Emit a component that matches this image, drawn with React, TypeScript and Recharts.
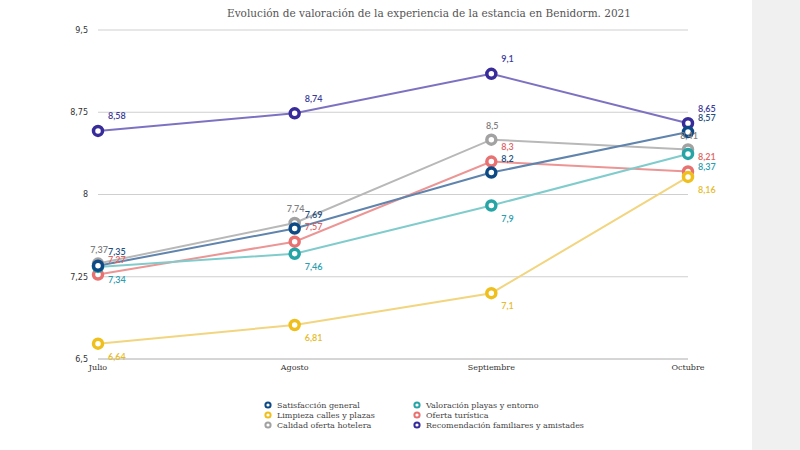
import { LineChart, Line, XAxis, YAxis, CartesianGrid, LabelList } from "recharts";

const MONTHS = ["Julio", "Agosto", "Septiembre", "Octubre"];

const SATISFACCION = [7.35, 7.69, 8.2, 8.57];
const LIMPIEZA = [6.64, 6.81, 7.1, 8.16];
const CALIDAD_HOTELERA = [7.37, 7.74, 8.5, 8.41];
const PLAYAS = [7.34, 7.46, 7.9, 8.37];
const OFERTA = [7.27, 7.57, 8.3, 8.21];
const RECOMENDACION = [8.58, 8.74, 9.1, 8.65];

const Y_TICKS = [6.5, 7.25, 8, 8.75, 9.5];

const SERIES = [
  { key: "satisfaccion", label: "Satisfacción general", values: SATISFACCION, line: "#5f84ad", marker: "#0d4a85", text: "#1f4f80", dx: 10, dy: -13, anchor: "start" },
  { key: "limpieza", label: "Limpieza calles y plazas", values: LIMPIEZA, line: "#f2d57f", marker: "#efbf1c", text: "#e6bb2a", dx: 10, dy: 14, anchor: "start" },
  { key: "calidad", label: "Calidad oferta hotelera", values: CALIDAD_HOTELERA, line: "#b8b8b8", marker: "#a2a2a2", text: "#808080", dx: 1, dy: -13, anchor: "middle" },
  { key: "playas", label: "Valoración playas y entorno", values: PLAYAS, line: "#80cccc", marker: "#27a5a6", text: "#2a9db0", dx: 10, dy: 14, anchor: "start" },
  { key: "oferta", label: "Oferta turística", values: OFERTA, line: "#ec9595", marker: "#e87272", text: "#e06464", dx: 10, dy: -14, anchor: "start" },
  { key: "recomendacion", label: "Recomendación familiares y amistades", values: RECOMENDACION, line: "#7d72c2", marker: "#382c9a", text: "#3c3a9a", dx: 10, dy: -14, anchor: "start" },
];

// draw order (last on top), matches how the markers overlap
const DRAW_ORDER = ["recomendacion", "calidad", "oferta", "playas", "satisfaccion", "limpieza"];

const data = MONTHS.map((m, i) => {
  const row: Record<string, string | number> = { month: m };
  SERIES.forEach((s) => (row[s.key] = s.values[i]));
  return row;
});

const fmt = (v: number) => String(v).replace(".", ",");

const SERIF = "'DejaVu Serif', serif";

export default function App() {
  const ordered = DRAW_ORDER.map((k) => SERIES.find((s) => s.key === k)!);
  const legendCols = [SERIES.slice(0, 3), SERIES.slice(3)];

  return (
    <div style={{ position: "absolute", left: 0, top: 0, width: 800, height: 450, background: "#fff", overflow: "hidden" }}>
      <div style={{ position: "absolute", left: 752, top: 0, width: 48, height: 450, background: "#f0f0f0" }} />
      <div
        style={{
          position: "absolute",
          left: 0,
          top: 6,
          width: 858,
          textAlign: "center",
          fontFamily: SERIF,
          fontSize: 10.5,
          lineHeight: "14px",
          color: "#555",
        }}
      >
        Evolución de valoración de la experiencia de la estancia en Benidorm. 2021
      </div>

      <LineChart width={800} height={450} data={data} margin={{ top: 30, right: 112, left: 58, bottom: 71 }} style={{ position: "absolute", left: 0, top: 0 }}>
        <CartesianGrid vertical={false} stroke="#cfcfcf" />
        <XAxis
          dataKey="month"
          axisLine={{ stroke: "#c4c4c4" }}
          tickLine={false}
          tickSize={0}
          tickMargin={5}
          height={20}
          tick={{ fill: "#333", fontSize: 8, fontFamily: SERIF }}
        />
        <YAxis
          domain={[6.5, 9.5]}
          ticks={Y_TICKS}
          width={40}
          axisLine={false}
          tickLine={false}
          tickSize={0}
          tickMargin={10}
          tickFormatter={fmt}
          tick={{ fill: "#333", fontSize: 8, fontFamily: "'DejaVu Sans', sans-serif" }}
        />
        {ordered.map((s) => (
          <Line
            key={s.key}
            dataKey={s.key}
            stroke={s.line}
            strokeWidth={2}
            isAnimationActive={false}
            dot={{ r: 4.5, strokeWidth: 3.5, fill: "#fff", stroke: s.marker }}
            activeDot={false}
          >
            <LabelList
              dataKey={s.key}
              content={(p: any) => (
                <text
                  x={Number(p.x) + s.dx}
                  y={Number(p.y) + s.dy}
                  textAnchor={s.anchor}
                  dominantBaseline="middle"
                  fill={s.text}
                  fontSize={9}
                  fontFamily="Lato, sans-serif"
                  fontWeight={600}
                >
                  {fmt(Number(p.value))}
                </text>
              )}
            />
          </Line>
        ))}
      </LineChart>

      {legendCols.map((col, ci) => (
        <div key={ci} style={{ position: "absolute", left: ci === 0 ? 263 : 412, top: 400 }}>
          {col.map((s) => (
            <div key={s.key} style={{ display: "flex", alignItems: "center", height: 10, fontFamily: SERIF, fontSize: 8, color: "#444", whiteSpace: "nowrap" }}>
              <svg width={10} height={10} style={{ marginRight: 4 }}>
                <circle cx={5} cy={5} r={2.6} fill="#fff" stroke={s.marker} strokeWidth={2} />
              </svg>
              {s.label}
            </div>
          ))}
        </div>
      ))}
    </div>
  );
}
